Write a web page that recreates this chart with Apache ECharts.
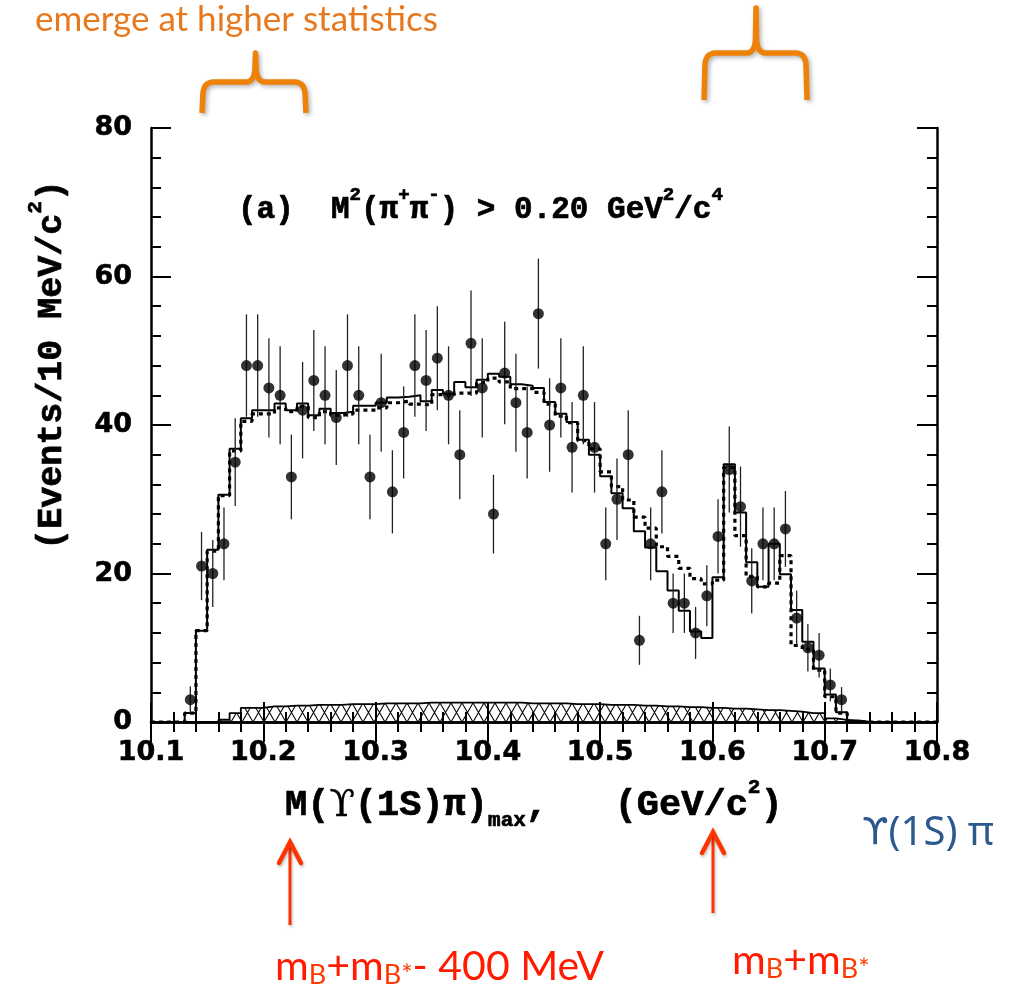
<!DOCTYPE html>
<html><head><meta charset="utf-8">
<script src="https://cdn.jsdelivr.net/npm/echarts@6.0.0/dist/echarts.min.js"></script>
<style>html,body{margin:0;padding:0;background:#fff}#c{width:1015px;height:994px}</style>
</head><body><div id="c"></div>
<script>
// ---- binning (10 MeV bins from 10.10 to 10.80 GeV) ----
const BIN_START = 10.10;
const BIN_WIDTH = 0.01;
const xTicks = [10.1, 10.2, 10.3, 10.4, 10.5, 10.6, 10.7, 10.8];
const yTicks = [0, 20, 40, 60, 80];

// ---- data points (events per bin), null = no point ----
const dataCounts = [null,null,null,3,21,20,24,35,48,48,
  45,44,33,42,46,44,41,48,44,33,
  43,31,39,48,46,49,44,36,51,45,
  28,47,43,39,55,40,45,37,44,37,
  24,30,36,11,24,31,16,16,12,17,
  25,34,29,19,24,24,26,14,10,9,
  5,3,null,null,null,null,null,null,null,null];
const dataErrors = [null,null,null,1.8,4.6,4.5,4.9,5.9,6.9,6.9,
  6.7,6.6,5.7,6.5,6.8,6.6,6.4,6.9,6.6,5.7,
  6.6,5.6,6.2,6.9,6.8,7.0,6.6,6.0,7.1,6.7,
  5.3,6.9,6.6,6.2,7.4,6.3,6.7,6.1,6.6,6.1,
  4.9,5.5,6.0,3.3,4.9,5.6,4.0,4.0,3.5,4.1,
  5.0,5.8,5.4,4.4,4.9,4.9,5.1,3.7,3.2,3.0,
  2.2,1.7,null,null,null,null,null,null,null,null];

// ---- fit histograms ----
const solidFit = [0,0,0,1.2,12.3,23.2,30.6,36.8,40.9,42.0,
  42.0,42.9,42.0,42.9,41.3,42.2,41.6,41.8,42.6,42.6,
  43.0,43.7,43.8,44.0,43.2,44.7,44.2,45.8,45.1,46.1,
  46.9,46.5,45.5,45.3,45.0,43.1,41.5,40.4,38.0,36.0,
  33.1,30.8,28.8,25.7,23.5,20.3,17.7,15.0,12.2,11.3,
  19.5,34.7,28.2,21.5,18.2,24.0,19.9,15.1,10.8,7.2,
  3.7,1.3,0.2,0,0,0,0,0,0,0];
const dashedFit = [0,0,0,1.2,12.3,23.0,30.5,36.5,40.5,41.5,
  41.5,42.3,41.8,42.5,41.0,41.8,41.3,41.5,42.0,42.0,
  42.3,43.0,43.2,42.8,42.7,44.1,43.9,44.3,44.3,45.7,
  46.3,45.8,44.9,44.9,44.4,42.8,41.2,40.3,37.9,36.8,
  33.7,31.7,29.9,27.6,26.1,23.6,22.3,20.7,19.3,18.6,
  19.1,34.3,25.1,19.6,18.2,18.7,22.4,10.3,9.8,7.0,
  3.4,1.2,0,0,0,0,0,0,0,0];
const bkgFit = [0,0,0,0,0,0,0.3,1.2,1.9,1.9,
  2.1,2.1,2.2,2.2,2.3,2.3,2.3,2.4,2.4,2.4,
  2.5,2.5,2.5,2.5,2.6,2.6,2.6,2.6,2.6,2.6,
  2.6,2.6,2.6,2.5,2.5,2.5,2.5,2.4,2.4,2.4,
  2.3,2.3,2.3,2.2,2.2,2.1,2.1,2.0,2.0,1.9,
  1.9,1.8,1.8,1.7,1.6,1.6,1.5,1.4,1.2,1.2,
  0.5,0.3,0.1,0,0,0,0,0,0,0];

function binLo(i){ return +(BIN_START + i*BIN_WIDTH).toFixed(3); }
function binMid(i){ return +(BIN_START + (i+0.5)*BIN_WIDTH).toFixed(4); }
function stepLine(vals){
  const pts = [];
  vals.forEach((v,i)=>{ pts.push([binLo(i), v], [binLo(i+1), v]); });
  return pts;
}
const points = [], errs = [];
dataCounts.forEach((v,i)=>{ if(v!==null){ points.push([binMid(i), v]); errs.push([binMid(i), v, dataErrors[i]]); } });

// cross-hatch pattern
const pc = document.createElement('canvas');
pc.width = 11; pc.height = 19;
const pctx = pc.getContext('2d');
pctx.strokeStyle = '#000'; pctx.lineWidth = 1.1;
pctx.beginPath(); pctx.moveTo(0,0); pctx.lineTo(11,19); pctx.moveTo(11,0); pctx.lineTo(0,19); pctx.stroke();

const chart = echarts.init(document.getElementById('c'), null, {renderer:'canvas'});

const axisCommon = {
  axisLine: {show:true, lineStyle:{color:'#000', width:2.5}},
  axisTick: {show:true, inside:true, length:20, lineStyle:{color:'#000', width:2}},
  minorTick: {show:true, splitNumber:5, length:10, lineStyle:{color:'#000', width:2}},
  splitLine: {show:false}, minorSplitLine:{show:false}
};
const labelFont = {fontFamily:'DejaVu Sans', fontWeight:'bold', fontSize:27, color:'#000',
  textBorderColor:'#000', textBorderWidth:0.6};

const mono = '"Liberation Mono", "Courier New", monospace';
const sansLabel = 'Lato, "Noto Sans", sans-serif';

chart.setOption({
  animation:false,
  backgroundColor:'#fff',
  grid:{left:151, top:128, width:786, height:594, containLabel:false},
  xAxis:[
    Object.assign({type:'value', position:'bottom', min:xTicks[0], max:xTicks[xTicks.length-1], interval:0.1,
      axisLabel:Object.assign({margin:17, formatter:v=>v.toFixed(1)}, labelFont)}, axisCommon),
    Object.assign({type:'value', position:'top', min:xTicks[0], max:xTicks[xTicks.length-1], interval:0.1,
      axisLabel:{show:false}}, axisCommon)
  ],
  yAxis:[
    Object.assign({type:'value', position:'left', min:yTicks[0], max:yTicks[yTicks.length-1], interval:20,
      axisLabel:Object.assign({margin:19}, labelFont)}, axisCommon),
    Object.assign({type:'value', position:'right', min:yTicks[0], max:yTicks[yTicks.length-1], interval:20,
      axisLabel:{show:false}}, axisCommon)
  ],
  series:[
    {type:'line', name:'background', data:stepLine(bkgFit), showSymbol:false, symbol:'none', z:2,
      lineStyle:{color:'#000', width:1.8}, areaStyle:{color:{image:pc, repeat:'repeat'}, opacity:1, origin:'start'}},
    {type:'line', name:'fit2', data:stepLine(dashedFit), showSymbol:false, symbol:'none', z:3,
      lineStyle:{color:'#000', width:3.2, type:[4,4]}},
    {type:'line', name:'fit1', data:stepLine(solidFit), showSymbol:false, symbol:'none', z:4,
      lineStyle:{color:'#000', width:2}},
    {type:'custom', name:'errors', data:errs, z:5, encode:{x:0, y:1},
      renderItem:function(params, api){
        const x = api.value(0), y = api.value(1), e = api.value(2);
        const p1 = api.coord([x, y-e]), p2 = api.coord([x, y+e]);
        return {type:'line', shape:{x1:p1[0], y1:p1[1], x2:p2[0], y2:p2[1]}, style:{stroke:'#222', lineWidth:1.3}};
      }},
    {type:'scatter', name:'data', data:points, symbol:'circle', symbolSize:11, z:6, itemStyle:{color:'#000'}}
  ]
});

function quad(p0, c, p1, n){
  const out = [];
  for(let k=1;k<=n;k++){ const t=k/n, u=1-t;
    out.push([u*u*p0[0]+2*u*t*c[0]+t*t*p1[0], u*u*p0[1]+2*u*t*c[1]+t*t*p1[1]]); }
  return out;
}
function brace(xl, xm, xr, yb, yh, ytip){
  let pts = [[xl, yb], [xl+1, yh+11]];
  pts = pts.concat(quad([xl+1,yh+11],[xl+2,yh],[xl+12,yh],6));
  pts.push([xm-10, yh]);
  pts = pts.concat(quad([xm-10,yh],[xm-1.5,yh],[xm-0.6,yh-12],6));
  pts.push([xm, ytip]);
  pts.push([xm+0.6, yh-12]);
  pts = pts.concat(quad([xm+0.6,yh-12],[xm+1.5,yh],[xm+10,yh],6));
  pts.push([xr-12, yh]);
  pts = pts.concat(quad([xr-12,yh],[xr-2,yh],[xr-1,yh+11],6));
  pts.push([xr, yb]);
  return pts;
}
const braceStyle = {stroke:'#EE8208', lineWidth:5.5, fill:null, lineJoin:'round', lineCap:'butt',
  shadowBlur:4, shadowColor:'rgba(0,0,0,0.3)', shadowOffsetX:2, shadowOffsetY:2};
const arrowColor = '#FF3300';
function arrow(x, ytip, ybot){
  return [
    {type:'line', shape:{x1:x, y1:ybot, x2:x, y2:ytip+3}, style:{stroke:arrowColor, lineWidth:3,
      shadowBlur:3, shadowColor:'rgba(0,0,0,0.25)', shadowOffsetX:1, shadowOffsetY:2}},
    {type:'polyline', shape:{points:[[x-11, ytip+21],[x, ytip],[x+11, ytip+21]]},
      style:{stroke:arrowColor, lineWidth:4.5, fill:null, lineJoin:'miter', lineCap:'round',
      shadowBlur:3, shadowColor:'rgba(0,0,0,0.25)', shadowOffsetX:1, shadowOffsetY:2}}
  ];
}
function txt(x, y, text, rich, extra){
  const el = {type:'text', x:x, y:y, style:{text:text, rich:rich, align:'left', textAlign:'left',
    verticalAlign:'middle', textVerticalAlign:'middle'}};
  if(extra){ if(extra.rotation!==undefined) el.rotation = extra.rotation;
    if(extra.align){ el.style.align = extra.align; el.style.textAlign = extra.align; } }
  return el;
}

const redRich = {
  m:{fontSize:41, fontFamily:sansLabel, fill:'#FF1A00', lineHeight:44},
  b:{fontSize:27, fontFamily:sansLabel, fill:'#FF3A00', lineHeight:16, verticalAlign:'bottom'}
};
// mono rich: n = normal (centered in a tall line), s = superscript (top), b = subscript (bottom), g = greek symbol glyph
function monoRich(fs, sfs, raise, lower){
  const R = Math.max(raise, lower);
  const H = 2*R + sfs;
  const base = {fontFamily:mono, fontWeight:'bold', fill:'#000', stroke:'#000', lineWidth:0.7};
  return {
    n:Object.assign({}, base, {fontSize:fs, lineHeight:H, verticalAlign:'middle'}),
    g:Object.assign({}, base, {fontSize:fs, fontFamily:'"DejaVu Serif", serif', fontWeight:'normal', lineWidth:0.4, lineHeight:H, verticalAlign:'middle'}),
    s:Object.assign({}, base, {fontSize:sfs, lineHeight:10, padding:[R - raise,0,0,0], verticalAlign:'top'}),
    b:Object.assign({}, base, {fontSize:sfs, lineHeight:10, padding:[0,0,R - lower,0], verticalAlign:'bottom'})
  };
}

chart.setOption({
  graphic:[
    txt(35, 20, '{o|emerge at higher statistics}', {o:{fontSize:35, fontFamily:sansLabel, fill:'#E8781E'}}),
    {type:'polyline', shape:{points:brace(202, 255.5, 306, 113, 82, 53)}, style:braceStyle},
    {type:'polyline', shape:{points:brace(704, 756, 807, 100, 53, 8)}, style:braceStyle},
    txt(238, 210, '{n|(a)  M}{s|2}{n|(π}{s|+}{n|π}{s|-}{n|) > 0.20 GeV}{s|2}{n|/c}{s|4}', monoRich(31, 19, 15, 15)),
    txt(285, 806, '{n|M(}{g|ϒ}{n|(1S)π)}{b|max}{n|,   (GeV/c}{s|2}{n|)}', monoRich(37, 21, 18, 15)),
    txt(52, 365, '{n|(Events/10 MeV/c}{s|2}{n|)}', monoRich(35, 21, 16, 16), {rotation:Math.PI/2, align:'center'}),
    txt(862, 834, '{g|ϒ}{u|(1S) π}', {u:{fontSize:40, fontFamily:'"Noto Sans", sans-serif', fill:'#2D5A8E'},
      g:{fontSize:38, fontFamily:'"DejaVu Sans", sans-serif', fill:'#2D5A8E'}}),
  ].concat(arrow(290, 842, 925)).concat(arrow(713, 832, 913)).concat([
    txt(275, 967, '{m|m}{b|B}{m|+m}{b|B*}{m|- 400 MeV}', redRich),
    txt(732, 961, '{m|m}{b|B}{m|+m}{b|B*}', redRich)
  ])
});
</script></body></html>
